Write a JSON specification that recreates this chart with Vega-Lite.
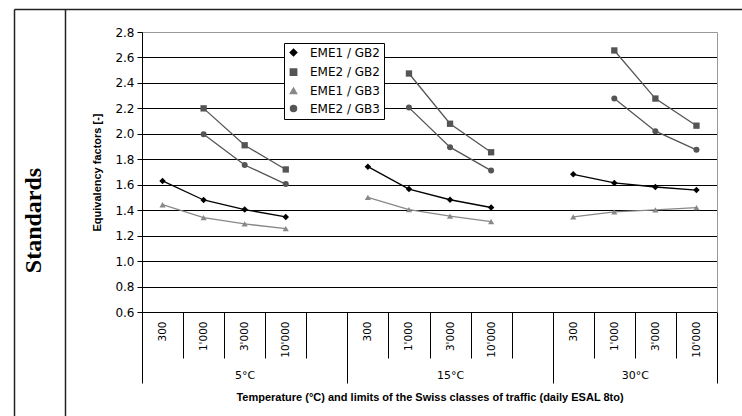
{
  "$schema": "https://vega.github.io/schema/vega-lite/v6.json",
  "width": 728,
  "height": 407,
  "autosize": {"type": "none"},
  "padding": {"left": 14, "top": 9, "right": 0, "bottom": 0},
  "background": "white",
  "config": {
    "view": {"stroke": null},
    "axis": {"labelColor": "black", "titleColor": "black", "domainColor": "black", "tickColor": "black"}
  },
  "datasets": {
    "eq": [
      {"series": "EME1 / GB2", "temp": "5°C", "cls": "5°C|300", "value": 1.63},
      {"series": "EME1 / GB2", "temp": "5°C", "cls": "5°C|1'000", "value": 1.48},
      {"series": "EME1 / GB2", "temp": "5°C", "cls": "5°C|3'000", "value": 1.405},
      {"series": "EME1 / GB2", "temp": "5°C", "cls": "5°C|10'000", "value": 1.347},
      {"series": "EME1 / GB2", "temp": "15°C", "cls": "15°C|300", "value": 1.742},
      {"series": "EME1 / GB2", "temp": "15°C", "cls": "15°C|1'000", "value": 1.566},
      {"series": "EME1 / GB2", "temp": "15°C", "cls": "15°C|3'000", "value": 1.482},
      {"series": "EME1 / GB2", "temp": "15°C", "cls": "15°C|10'000", "value": 1.421},
      {"series": "EME1 / GB2", "temp": "30°C", "cls": "30°C|300", "value": 1.682},
      {"series": "EME1 / GB2", "temp": "30°C", "cls": "30°C|1'000", "value": 1.614},
      {"series": "EME1 / GB2", "temp": "30°C", "cls": "30°C|3'000", "value": 1.582},
      {"series": "EME1 / GB2", "temp": "30°C", "cls": "30°C|10'000", "value": 1.558},
      {"series": "EME2 / GB2", "temp": "5°C", "cls": "5°C|1'000", "value": 2.2},
      {"series": "EME2 / GB2", "temp": "5°C", "cls": "5°C|3'000", "value": 1.91},
      {"series": "EME2 / GB2", "temp": "5°C", "cls": "5°C|10'000", "value": 1.72},
      {"series": "EME2 / GB2", "temp": "15°C", "cls": "15°C|1'000", "value": 2.474},
      {"series": "EME2 / GB2", "temp": "15°C", "cls": "15°C|3'000", "value": 2.079},
      {"series": "EME2 / GB2", "temp": "15°C", "cls": "15°C|10'000", "value": 1.855},
      {"series": "EME2 / GB2", "temp": "30°C", "cls": "30°C|1'000", "value": 2.655},
      {"series": "EME2 / GB2", "temp": "30°C", "cls": "30°C|3'000", "value": 2.277},
      {"series": "EME2 / GB2", "temp": "30°C", "cls": "30°C|10'000", "value": 2.064},
      {"series": "EME1 / GB3", "temp": "5°C", "cls": "5°C|300", "value": 1.443},
      {"series": "EME1 / GB3", "temp": "5°C", "cls": "5°C|1'000", "value": 1.342},
      {"series": "EME1 / GB3", "temp": "5°C", "cls": "5°C|3'000", "value": 1.292},
      {"series": "EME1 / GB3", "temp": "5°C", "cls": "5°C|10'000", "value": 1.255},
      {"series": "EME1 / GB3", "temp": "15°C", "cls": "15°C|300", "value": 1.5},
      {"series": "EME1 / GB3", "temp": "15°C", "cls": "15°C|1'000", "value": 1.405},
      {"series": "EME1 / GB3", "temp": "15°C", "cls": "15°C|3'000", "value": 1.353},
      {"series": "EME1 / GB3", "temp": "15°C", "cls": "15°C|10'000", "value": 1.31},
      {"series": "EME1 / GB3", "temp": "30°C", "cls": "30°C|300", "value": 1.348},
      {"series": "EME1 / GB3", "temp": "30°C", "cls": "30°C|1'000", "value": 1.387},
      {"series": "EME1 / GB3", "temp": "30°C", "cls": "30°C|3'000", "value": 1.403},
      {"series": "EME1 / GB3", "temp": "30°C", "cls": "30°C|10'000", "value": 1.42},
      {"series": "EME2 / GB3", "temp": "5°C", "cls": "5°C|1'000", "value": 1.996},
      {"series": "EME2 / GB3", "temp": "5°C", "cls": "5°C|3'000", "value": 1.755},
      {"series": "EME2 / GB3", "temp": "5°C", "cls": "5°C|10'000", "value": 1.605},
      {"series": "EME2 / GB3", "temp": "15°C", "cls": "15°C|1'000", "value": 2.206},
      {"series": "EME2 / GB3", "temp": "15°C", "cls": "15°C|3'000", "value": 1.895},
      {"series": "EME2 / GB3", "temp": "15°C", "cls": "15°C|10'000", "value": 1.711},
      {"series": "EME2 / GB3", "temp": "30°C", "cls": "30°C|1'000", "value": 2.277},
      {"series": "EME2 / GB3", "temp": "30°C", "cls": "30°C|3'000", "value": 2.021},
      {"series": "EME2 / GB3", "temp": "30°C", "cls": "30°C|10'000", "value": 1.874}
    ],
    "frame": [{"p": 0}]
  },
  "resolve": {
    "scale": {"x": "independent", "y": "independent"},
    "axis": {"x": "independent", "y": "independent"}
  },
  "layer": [
    {
      "data": {"name": "eq"},
      "encoding": {
        "x": {
          "field": "cls",
          "type": "nominal",
          "sort": ["5°C|300", "5°C|1'000", "5°C|3'000", "5°C|10'000", "5°C|", "15°C|300", "15°C|1'000", "15°C|3'000", "15°C|10'000", "15°C|", "30°C|300", "30°C|1'000", "30°C|3'000", "30°C|10'000"],
          "scale": {
            "type": "band",
            "domain": ["5°C|300", "5°C|1'000", "5°C|3'000", "5°C|10'000", "5°C|", "15°C|300", "15°C|1'000", "15°C|3'000", "15°C|10'000", "15°C|", "30°C|300", "30°C|1'000", "30°C|3'000", "30°C|10'000"],
            "range": [128, 703],
            "paddingInner": 0,
            "paddingOuter": 0
          },
          "axis": {
            "orient": "bottom",
            "offset": -104,
            "title": null,
            "grid": false,
            "domain": true,
            "domainColor": "black",
            "tickBand": "extent",
            "tickSize": 46,
            "tickColor": "black",
            "labelAngle": 270,
            "labelAlign": "right",
            "labelBaseline": "middle",
            "labelPadding": -37,
            "labelFont": "DejaVu Sans",
            "labelFontSize": 10.5,
            "labelOverlap": false,
            "labelExpr": "split(datum.value, '|')[1]"
          }
        },
        "y": {
          "field": "value",
          "type": "quantitative",
          "scale": {"domain": [0.6, 2.8], "range": [303, 23], "nice": false, "zero": false},
          "axis": {
            "orient": "left",
            "offset": -128,
            "values": [0.6, 0.8, 1.0, 1.2, 1.4, 1.6, 1.8, 2.0, 2.2, 2.4, 2.6, 2.8],
            "format": ".1f",
            "tickSize": 5,
            "labelPadding": 3,
            "labelFont": "DejaVu Sans",
            "labelFontSize": 12,
            "grid": true,
            "gridColor": {"condition": {"test": "datum.value > 2.75", "value": "#999999"}, "value": "#000000"},
            "gridWidth": 1,
            "title": "Equivalency factors [-]",
            "titleFont": "Liberation Sans",
            "titleFontSize": 11,
            "titleFontWeight": "bold",
            "titlePadding": 12
          }
        },
        "color": {
          "field": "series",
          "type": "nominal",
          "scale": {
            "domain": ["EME1 / GB2", "EME2 / GB2", "EME1 / GB3", "EME2 / GB3"],
            "range": ["#000000", "#555555", "#888888", "#555555"]
          },
          "legend": {
            "title": null,
            "orient": "none",
            "legendX": 270,
            "legendY": 34,
            "padding": 3.5,
            "strokeColor": "black",
            "fillColor": "white",
            "labelFont": "DejaVu Sans",
            "labelFontSize": 12,
            "labelColor": "black",
            "labelOffset": 10.5,
            "rowPadding": 5.7,
            "symbolSize": 144
          }
        }
      },
      "layer": [
        {
          "mark": {"type": "line", "strokeWidth": 1.3},
          "encoding": {"detail": {"field": "temp", "type": "nominal"}}
        },
        {
          "mark": {"type": "point", "filled": true, "opacity": 1},
          "encoding": {
            "shape": {
              "field": "series",
              "type": "nominal",
              "scale": {
                "domain": ["EME1 / GB2", "EME2 / GB2", "EME1 / GB3", "EME2 / GB3"],
                "range": ["diamond", "square", "triangle-up", "circle"]
              },
              "legend": null
            },
            "size": {
              "field": "series",
              "type": "nominal",
              "scale": {
                "domain": ["EME1 / GB2", "EME2 / GB2", "EME1 / GB3", "EME2 / GB3"],
                "range": [42, 36, 45, 50]
              },
              "legend": null
            }
          }
        }
      ]
    },
    {
      "data": {"name": "frame"},
      "mark": {"type": "point", "opacity": 0},
      "encoding": {
        "x": {
          "field": "p",
          "type": "quantitative",
          "scale": {"domain": [0, 14], "range": [128, 703], "nice": false, "zero": false},
          "axis": {
            "orient": "bottom",
            "offset": -104,
            "values": [0, 2.5, 5, 7.5, 10, 12, 14],
            "domain": false,
            "grid": false,
            "ticks": true,
            "tickSize": 71,
            "tickColor": "black",
            "tickOpacity": {"condition": {"test": "datum.value==0 || datum.value==5 || datum.value==10 || datum.value==14", "value": 1}, "value": 0},
            "labelExpr": "datum.value==2.5 ? '5°C' : datum.value==7.5 ? '15°C' : datum.value==12 ? '30°C' : ''",
            "labelFont": "DejaVu Sans",
            "labelFontSize": 11,
            "labelAngle": 0,
            "labelAlign": "center",
            "labelBaseline": "top",
            "labelPadding": -14,
            "labelFlush": false,
            "labelOverlap": false,
            "title": "Temperature (°C) and limits of the Swiss classes of traffic (daily ESAL 8to)",
            "titleFont": "Liberation Sans",
            "titleFontSize": 11,
            "titleFontWeight": "bold",
            "titlePadding": 8
          }
        },
        "y": {
          "field": "p",
          "type": "quantitative",
          "scale": {"domain": [0, 1], "range": [303, 23], "nice": false, "zero": false},
          "axis": {
            "orient": "right",
            "offset": -25,
            "domain": true,
            "domainColor": "#999999",
            "ticks": false,
            "labels": false,
            "grid": false,
            "title": null
          }
        }
      }
    },
    {
      "data": {"name": "frame"},
      "mark": {"type": "point", "opacity": 0},
      "encoding": {
        "x": {
          "field": "p",
          "type": "quantitative",
          "scale": {"domain": [0, 1], "nice": false, "zero": false},
          "axis": {"orient": "top", "offset": 0, "domain": true, "domainColor": "#222222", "domainWidth": 1.5, "ticks": false, "labels": false, "grid": false, "title": null}
        },
        "y": {
          "field": "p",
          "type": "quantitative",
          "scale": {"domain": [0, 1], "nice": false, "zero": false},
          "axis": {"orient": "left", "offset": 0, "domain": true, "domainColor": "#222222", "domainWidth": 1.5, "ticks": false, "labels": false, "grid": false, "title": null}
        }
      }
    },
    {
      "data": {"name": "frame"},
      "mark": {"type": "point", "opacity": 0},
      "encoding": {
        "y": {
          "field": "p",
          "type": "quantitative",
          "scale": {"domain": [0, 1], "nice": false, "zero": false},
          "axis": {
            "orient": "left",
            "offset": -51,
            "domain": true,
            "domainColor": "#222222",
            "domainWidth": 1.5,
            "ticks": false,
            "labels": false,
            "grid": false,
            "title": "Standards",
            "titleFont": "Liberation Serif",
            "titleFontSize": 24,
            "titleFontWeight": "bold",
            "titlePadding": 20,
            "titleY": 211
          }
        }
      }
    }
  ]
}
